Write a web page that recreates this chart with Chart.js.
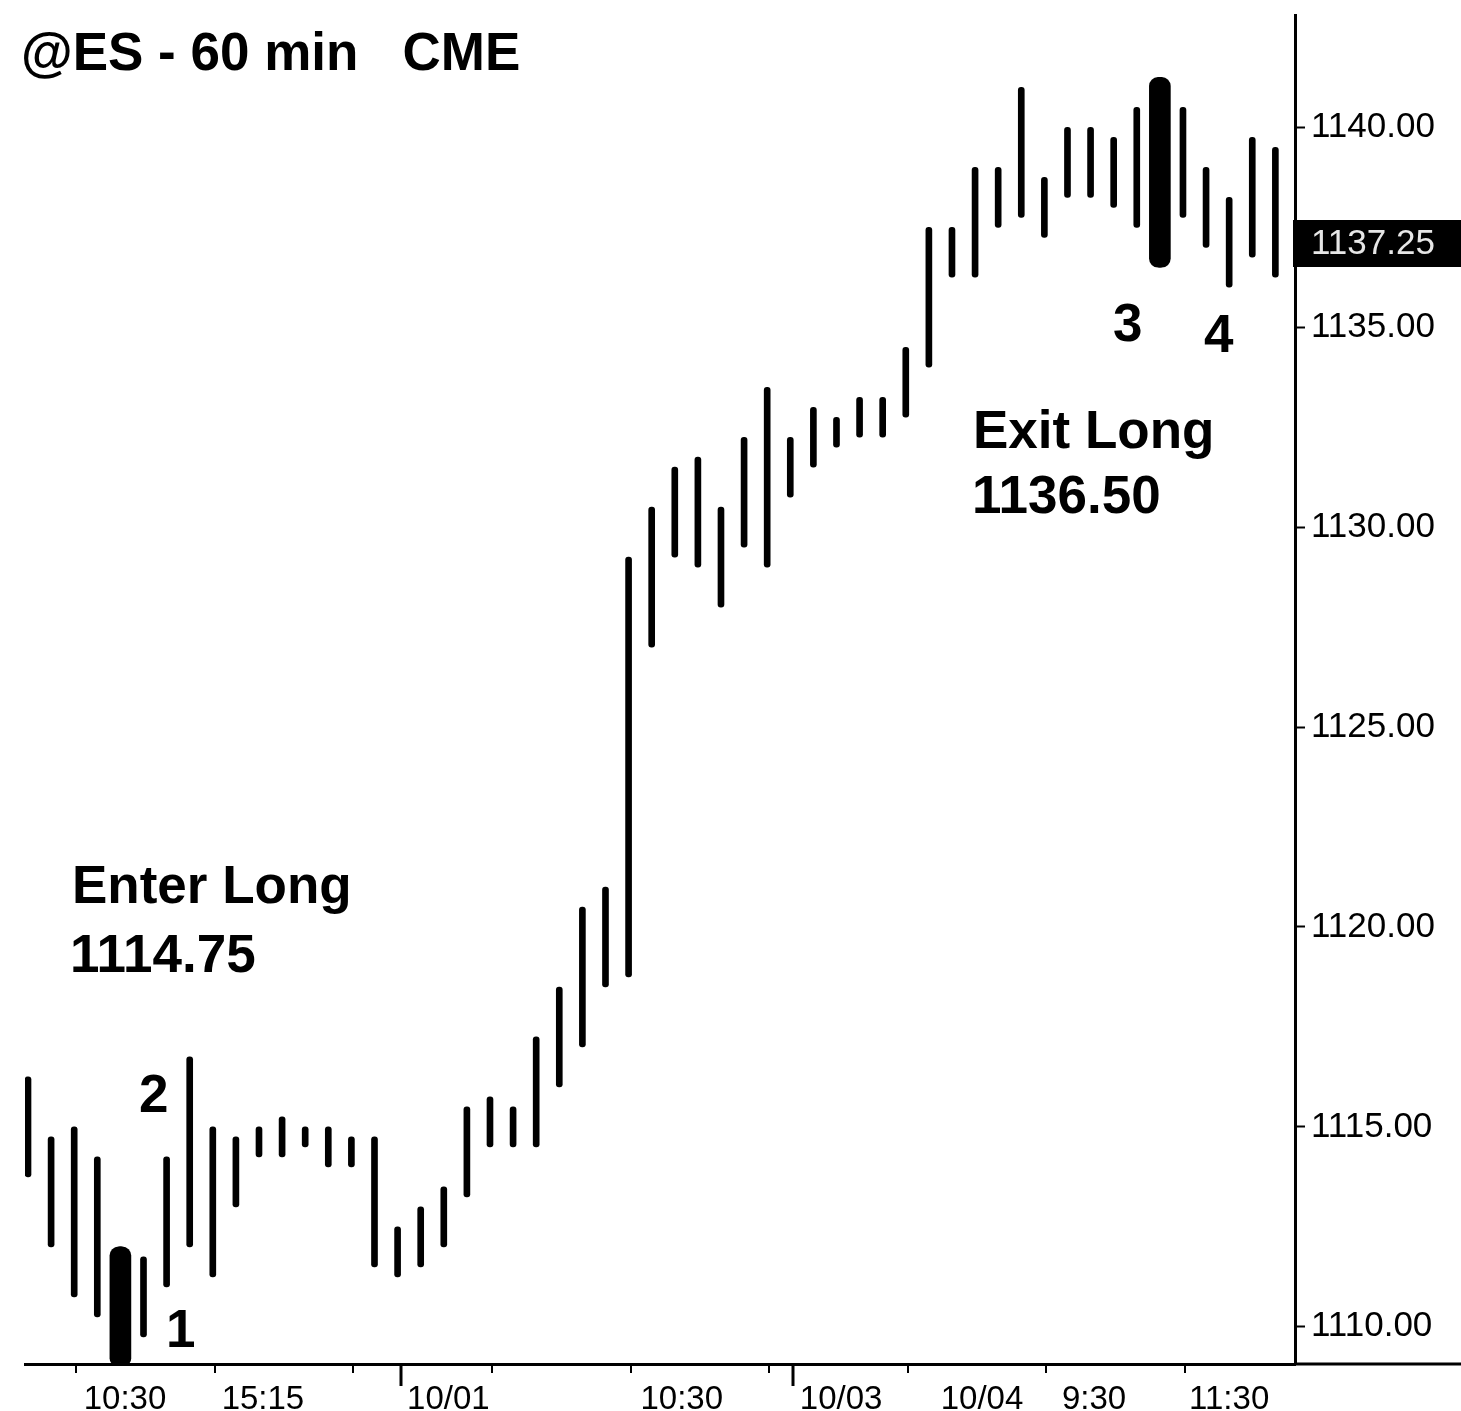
<!DOCTYPE html>
<html>
<head>
<meta charset="utf-8">
<title>@ES - 60 min CME</title>
<script src="https://cdn.jsdelivr.net/npm/chart.js@4/dist/chart.umd.min.js"></script>
<style>
  html, body { margin: 0; padding: 0; background: #fff; overflow: hidden; }
  #wrap { width: 1461px; height: 1411px; position: relative; }
  canvas { display: block; }
</style>
</head>
<body>
<div id="wrap"><canvas id="chart" width="1461" height="1411"></canvas></div>
<script>
// ---- hourly bars: high / low of each 60-minute bar (bar index = position in list) ----
const barHighs = [
  1116.25, 1114.75, 1115.00, 1114.25, 1112.00, 1111.75, 1114.25, 1116.75, 1115.00, 1114.75,
  1115.00, 1115.25, 1115.00, 1115.00, 1114.75, 1114.75, 1112.50, 1113.00, 1113.50, 1115.50,
  1115.75, 1115.50, 1117.25, 1118.50, 1120.50, 1121.00, 1129.25, 1130.50, 1131.50, 1131.75,
  1130.50, 1132.25, 1133.50, 1132.25, 1133.00, 1132.75, 1133.25, 1133.25, 1134.50, 1137.50,
  1137.50, 1139.00, 1139.00, 1141.00, 1138.75, 1140.00, 1140.00, 1139.75, 1140.50, 1141.25,
  1140.50, 1139.00, 1138.25, 1139.75, 1139.50
];
const barLows = [
  1113.75, 1112.00, 1110.75, 1110.25, 1109.00, 1109.75, 1111.00, 1112.00, 1111.25, 1113.00,
  1114.25, 1114.25, 1114.50, 1114.00, 1114.00, 1111.50, 1111.25, 1111.50, 1112.00, 1113.25,
  1114.50, 1114.50, 1114.50, 1116.00, 1117.00, 1118.50, 1118.75, 1127.00, 1129.25, 1129.00,
  1128.00, 1129.50, 1129.00, 1130.75, 1131.50, 1132.00, 1132.25, 1132.25, 1132.75, 1134.00,
  1136.25, 1136.25, 1137.50, 1137.75, 1137.25, 1138.25, 1138.25, 1138.00, 1137.50, 1136.50,
  1137.75, 1137.00, 1136.00, 1136.75, 1136.25
];
// bars of the entry and exit signals, drawn wide
const signalBars = [4, 49];
// session starts and hourly grid marks (bar indices)
const sessionStarts = [16, 33];
const hourMarks = [2, 8, 14, 20, 26, 32, 38, 44, 50];
// time axis labels
const timeLabels = ['10:30', '15:15', '10/01', '10:30', '10/03', '10/04', '9:30', '11:30'];
// price axis labels
const priceTicks = [1110, 1115, 1120, 1125, 1130, 1135, 1140];
const lastPrice = 1137.25;
const entryPrice = 1114.75;
const exitPrice = 1136.50;

// ---- layout / style settings ----
const W = 1461, H = 1411;
const FONT = '"Liberation Sans", Arial, Helvetica, sans-serif';
const labelSlots = [4.2, 10.17, 18.2, 28.3, 35.2, 41.3, 46.15, 52.0];

const thinBars = barHighs.map((h, i) => ({ x: i, y: [barLows[i], h] }));
const wideBars = signalBars.map(i => ({ x: i, y: [barLows[i], barHighs[i]] }));

// text drawn over the plot
const notes = [
  { text: '@ES - 60 min   CME', x: 21, y: 70 },
  { text: 'Enter Long', x: 72, y: 903 },
  { text: entryPrice.toFixed(2), x: 70, y: 972 },
  { text: 'Exit Long', x: 973, y: 448 },
  { text: exitPrice.toFixed(2), x: 972, y: 513 },
  { text: '1', x: 166, y: 1347 },
  { text: '2', x: 139, y: 1112 },
  { text: '3', x: 1113, y: 341 },
  { text: '4', x: 1204, y: 352 }
];

const noEdgePadding = s => {
  s.paddingTop = 0; s.paddingBottom = 0; s.paddingLeft = 0; s.paddingRight = 0;
};

const decorations = {
  id: 'decorations',
  afterDraw(chart) {
    const { ctx, chartArea: a, scales: { x, y } } = chart;
    ctx.save();
    ctx.strokeStyle = '#000';
    ctx.fillStyle = '#000';

    // time axis continues under the price scale
    ctx.lineWidth = 3;
    ctx.beginPath();
    ctx.moveTo(a.right, a.bottom);
    ctx.lineTo(W, a.bottom);
    ctx.stroke();

    // hourly marks
    ctx.lineWidth = 2;
    hourMarks.forEach(i => {
      const px = Math.round(x.getPixelForValue(i)) + 2;
      ctx.beginPath();
      ctx.moveTo(px, a.bottom);
      ctx.lineTo(px, a.bottom + 9);
      ctx.stroke();
    });
    // session start marks
    ctx.lineWidth = 3;
    sessionStarts.forEach(i => {
      const px = Math.round(x.getPixelForValue(i)) + 3;
      ctx.beginPath();
      ctx.moveTo(px, a.bottom);
      ctx.lineTo(px, a.bottom + 22);
      ctx.stroke();
    });

    // last price marker on the price scale
    const py = y.getPixelForValue(lastPrice) + 6;
    ctx.fillRect(a.right - 2, Math.round(py - 23), W - a.right + 2, 47);
    ctx.fillStyle = '#e6e6e6';
    ctx.font = '35px ' + FONT;
    ctx.textAlign = 'left';
    ctx.textBaseline = 'middle';
    ctx.fillText(lastPrice.toFixed(2), a.right + 16, py + 1);

    // title and trade notes
    ctx.fillStyle = '#000';
    ctx.font = 'bold 53px ' + FONT;
    ctx.textBaseline = 'alphabetic';
    notes.forEach(n => ctx.fillText(n.text, n.x, n.y));
    ctx.restore();
  }
};

new Chart(document.getElementById('chart'), {
  type: 'bar',
  data: {
    datasets: [
      {
        data: thinBars,
        backgroundColor: '#000',
        barThickness: 6,
        borderRadius: 3,
        borderSkipped: false,
        grouped: false
      },
      {
        data: wideBars,
        backgroundColor: '#000',
        barThickness: 21,
        borderRadius: 9,
        borderSkipped: false,
        grouped: false
      }
    ]
  },
  options: {
    responsive: false,
    animation: false,
    devicePixelRatio: 1,
    layout: { padding: { left: 25, top: 15, right: 0, bottom: 0 } },
    plugins: { legend: { display: false }, tooltip: { enabled: false } },
    scales: {
      x: {
        type: 'linear',
        min: -0.13,
        max: 54.85,
        offset: false,
        afterBuildTicks: s => { s.ticks = labelSlots.map(v => ({ value: v })); },
        ticks: {
          autoSkip: false,
          maxRotation: 0,
          callback: (v, i) => timeLabels[i],
          font: { family: FONT, size: 33 },
          color: '#000',
          padding: 16
        },
        grid: { display: false, drawTicks: false },
        border: { display: true, color: '#000', width: 3 },
        afterFit: s => { s.height = 47; noEdgePadding(s); }
      },
      y: {
        type: 'linear',
        position: 'right',
        min: 1109.07,
        max: 1142.81,
        afterBuildTicks: s => { s.ticks = priceTicks.map(v => ({ value: v })); },
        ticks: {
          callback: v => Number(v).toFixed(2),
          font: { family: FONT, size: 35 },
          color: '#000',
          padding: 6
        },
        grid: { drawOnChartArea: false, drawTicks: true, tickLength: 10, tickColor: '#000', tickWidth: 2 },
        border: { display: true, color: '#000', width: 3 },
        afterFit: s => { s.width = 166; noEdgePadding(s); }
      }
    }
  },
  plugins: [decorations]
});
</script>
</body>
</html>
